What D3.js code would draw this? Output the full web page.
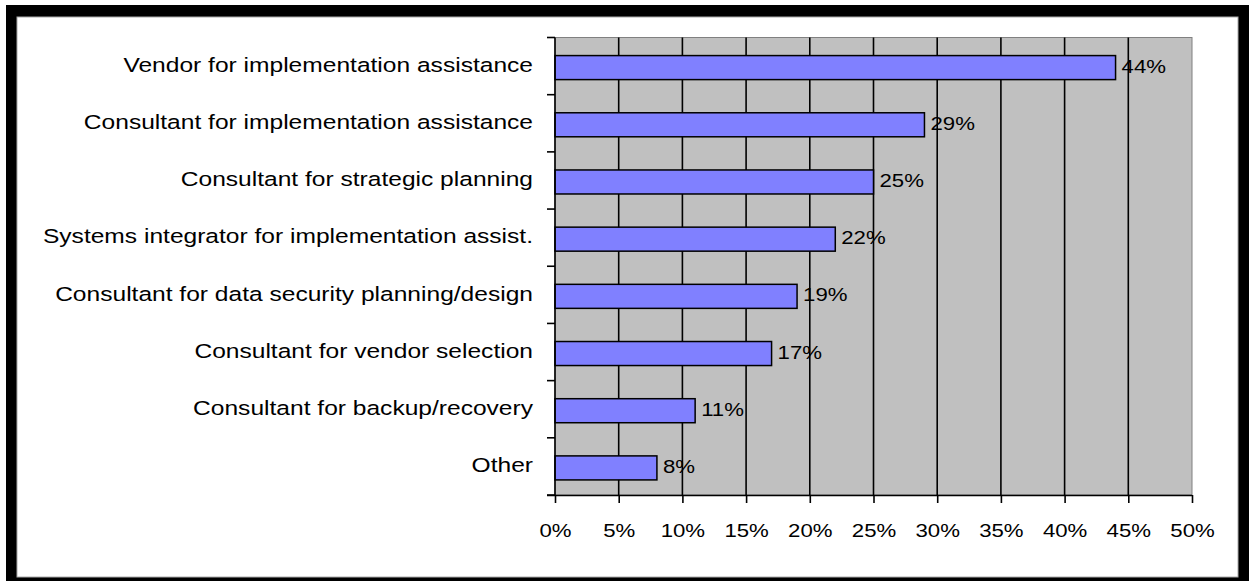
<!DOCTYPE html>
<html><head><meta charset="utf-8">
<script src="https://cdn.jsdelivr.net/npm/d3@7"></script>
<style>html,body{margin:0;padding:0;background:#fff;}svg{display:block;}</style>
</head><body>
<script>
const categories = [
  "Vendor for implementation assistance",
  "Consultant for implementation assistance",
  "Consultant for strategic planning",
  "Systems integrator for implementation assist.",
  "Consultant for data security planning/design",
  "Consultant for vendor selection",
  "Consultant for backup/recovery",
  "Other"
];
const values = [44, 29, 25, 22, 19, 17, 11, 8];
const tickValues = [0, 5, 10, 15, 20, 25, 30, 35, 40, 45, 50];

const W = 1249, H = 581;
const svg = d3.select("body").append("svg").attr("width", W).attr("height", H);

// frame
svg.append("rect").attr("x", 6).attr("y", 5).attr("width", W - 6).attr("height", H - 5).attr("fill", "#000");
svg.append("rect").attr("x", 17).attr("y", 17).attr("width", 1221).attr("height", 560).attr("fill", "#fff")
  .attr("stroke", "#aaa").attr("stroke-width", 1);

const plot = {left: 555, right: 1192, top: 37.5, bottom: 495};
const x = d3.scaleLinear().domain([0, 50]).range([plot.left, plot.right]);
const y = d3.scaleBand().domain(categories).range([plot.top, plot.bottom]).paddingInner(0.58).paddingOuter(0.29);
const yb = d3.scaleBand().domain(categories).range([plot.top, plot.bottom]);

const font = "Arial, 'Liberation Sans', sans-serif";
const sx = 1.2;

svg.append("rect").attr("x", plot.left).attr("y", plot.top).attr("width", plot.right - plot.left)
  .attr("height", plot.bottom - plot.top).attr("fill", "#c0c0c0").attr("stroke", "#808080").attr("stroke-width", 1);

// gridlines
svg.append("g").selectAll("line").data(tickValues.slice(1, -1)).join("line")
  .attr("x1", d => x(d)).attr("x2", d => x(d)).attr("y1", plot.top).attr("y2", plot.bottom)
  .attr("stroke", "#000").attr("stroke-width", 1.6);

// bars
svg.append("g").selectAll("rect").data(values).join("rect")
  .attr("x", x(0)).attr("y", (d, i) => y(categories[i]) + 1.5)
  .attr("width", d => x(d) - x(0)).attr("height", y.bandwidth())
  .attr("fill", "#8080ff").attr("stroke", "#000").attr("stroke-width", 1.5);

// value labels
svg.append("g").selectAll("text").data(values).join("text")
  .attr("transform", (d, i) => `translate(${x(d) + 6},${y(categories[i]) + y.bandwidth() / 2}) scale(${sx},1)`)
  .attr("dy", "0.35em").attr("font-family", font).attr("font-size", 18.5).attr("fill", "#000")
  .text(d => d + "%");

// x axis
const xAxis = svg.append("g").attr("transform", `translate(0,${plot.bottom})`)
  .call(d3.axisBottom(x).tickValues(tickValues).tickFormat(d => d + "%").tickSize(8).tickSizeOuter(0));
xAxis.select(".domain").attr("stroke", "#000").attr("stroke-width", 1.6).attr("d", `M${plot.left - 8},0.5H${plot.right}`);
xAxis.selectAll(".tick line").attr("stroke", "#000").attr("stroke-width", 1.6);
xAxis.selectAll(".tick text").attr("font-family", font).attr("font-size", 18.5).attr("fill", "#000")
  .attr("y", 0).attr("dy", 0)
  .attr("transform", `translate(0,42) scale(${sx},1)`);

// y axis
const yAxisG = svg.append("g").attr("transform", `translate(${plot.left},0)`);
yAxisG.append("line").attr("x1", 0).attr("x2", 0).attr("y1", plot.top).attr("y2", plot.bottom)
  .attr("stroke", "#000").attr("stroke-width", 1.6);
const bounds = categories.map(c => yb(c)).concat([plot.bottom]);
yAxisG.selectAll("line.t").data(bounds).join("line").attr("class", "t")
  .attr("x1", -8).attr("x2", 0).attr("y1", d => d).attr("y2", d => d)
  .attr("stroke", "#000").attr("stroke-width", 1.6);
yAxisG.selectAll("text").data(categories).join("text")
  .attr("transform", d => `translate(-22,${y(d) - 1 + y.bandwidth() / 2}) scale(1.26,1)`)
  .attr("dy", "0.35em").attr("text-anchor", "end").attr("font-family", font).attr("font-size", 19.5).attr("fill", "#000")
  .text(d => d);
</script>
</body></html>
